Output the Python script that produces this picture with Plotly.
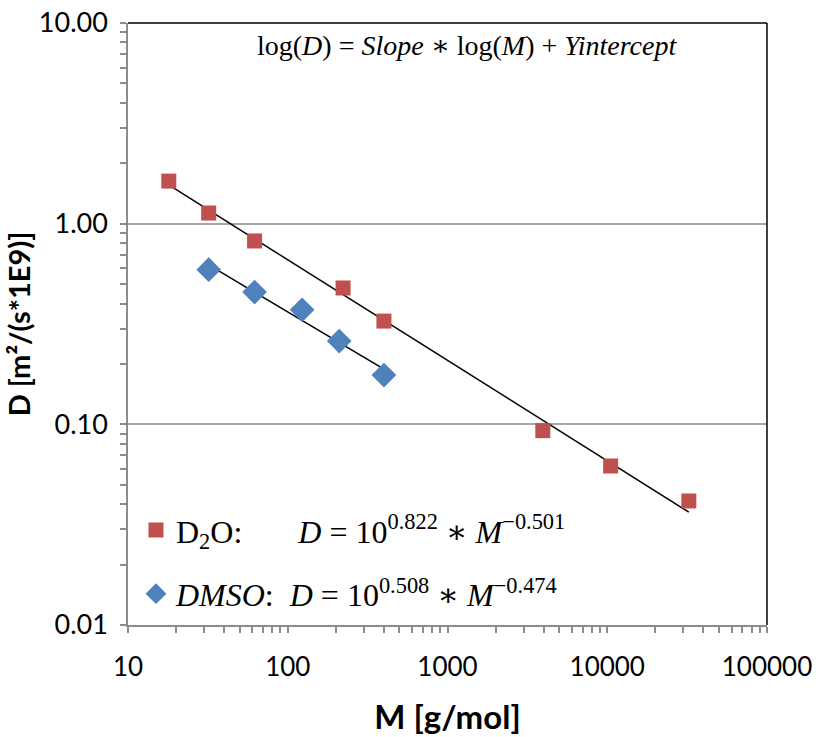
import plotly.graph_objects as go
import numpy as np

# D2O data
d2o_M = [18, 32, 62, 222, 400, 3950, 10500, 32400]
d2o_D = [1.63, 1.13, 0.82, 0.478, 0.327, 0.093, 0.062, 0.0415]
# DMSO data
dmso_M = [32, 62, 123, 210, 400]
dmso_D = [0.59, 0.456, 0.372, 0.26, 0.176]

# Fit parameters (log10 D = slope*log10 M + intercept)
d2o_fit = {"intercept": 0.822, "slope": -0.501}
dmso_fit = {"intercept": 0.508, "slope": -0.474}

y_tickvals = [0.01, 0.1, 1, 10]
y_ticktext = ["0.01", "0.10", "1.00", "10.00"]
x_tickvals = [10, 100, 1000, 10000, 100000]
x_ticktext = ["10", "100", "1000", "10000", "100000"]
x_minor = [m * 10 ** e for e in range(1, 5) for m in range(2, 10)]
y_minor = [m * 10 ** e for e in range(-2, 1) for m in range(2, 10)]

RED = "#C0504D"
BLUE = "#4F81BD"
SERIF = "Liberation Serif, DejaVu Serif, serif"
SANS = "Lato, Open Sans, sans-serif"
NB = "\u00a0"
AX = "#8C8C8C"

def trend(Ms, fit):
    m = np.array([min(Ms), max(Ms)], dtype=float)
    return m, 10 ** (fit["intercept"] + fit["slope"] * np.log10(m))

fig = go.Figure()

tx, ty = trend(d2o_M, d2o_fit)
fig.add_trace(go.Scatter(x=tx, y=ty, mode="lines", line=dict(color="black", width=1.5),
                         showlegend=False, hoverinfo="skip"))
tx, ty = trend(dmso_M, dmso_fit)
fig.add_trace(go.Scatter(x=tx, y=ty, mode="lines", line=dict(color="black", width=1.5),
                         showlegend=False, hoverinfo="skip"))

fig.add_trace(go.Scatter(
    x=d2o_M, y=d2o_D, mode="markers", legendgroup="a",
    marker=dict(symbol="square", size=15, color=RED),
    name="D<sub>2</sub>O:" + NB * 7 + "<i>D</i> = 10<sup>0.822</sup> ∗ <i>M</i><sup>−0.501</sup>"))
fig.add_trace(go.Scatter(
    x=dmso_M, y=dmso_D, mode="markers", legendgroup="b",
    marker=dict(symbol="diamond", size=19, color=BLUE),
    name="<i>DMSO</i>:" + NB * 2 + "<i>D</i> = 10<sup>0.508</sup> ∗ <i>M</i><sup>−0.474</sup>"))

fig.add_annotation(
    x=0.53, y=0.963, xref="paper", yref="paper", xanchor="center", yanchor="middle",
    text="log(<i>D</i>) = <i>Slope</i> ∗ log(<i>M</i>) + <i>Yintercept</i>",
    showarrow=False, font=dict(family=SERIF, size=28, color="black"))

fig.update_layout(
    width=818, height=737,
    margin=dict(l=128, r=51, t=23, b=112, autoexpand=False),
    paper_bgcolor="white", plot_bgcolor="white",
    font=dict(family=SANS, size=26, color="black"),
    legend=dict(x=0.0125, y=0.203, xanchor="left", yanchor="top",
                font=dict(family=SERIF, size=32, color="black"),
                bgcolor="rgba(0,0,0,0)", tracegroupgap=19, itemsizing="trace"),
    xaxis=dict(type="log", range=[1, 5], tickvals=x_tickvals, ticktext=x_ticktext,
               automargin=False,
               showgrid=False, ticks="outside", ticklen=6, tickcolor=AX, tickwidth=1.5,
               linecolor=AX, linewidth=1.5, mirror=False, ticklabelstandoff=12,
               minor=dict(tickvals=x_minor, ticks="outside", ticklen=6, tickcolor=AX,
                          tickwidth=1.5, showgrid=False),
               title=dict(text="<b>M [g/mol]</b>", font=dict(family=SANS, size=33), standoff=25),
               tickfont=dict(family=SANS, size=26)),
    yaxis=dict(type="log", range=[-2, 1], tickvals=y_tickvals, ticktext=y_ticktext,
               automargin=False,
               showgrid=True, gridcolor="#A6A6A6", gridwidth=1.5,
               ticks="outside", ticklen=6, tickcolor=AX, tickwidth=1.5,
               linecolor=AX, linewidth=1.5, ticklabelstandoff=7,
               minor=dict(tickvals=y_minor, ticks="outside", ticklen=6, tickcolor=AX,
                          tickwidth=1.5, showgrid=False),
               title=dict(text="<b>D [m²/(s*1E9)]</b>", font=dict(family=SANS, size=29), standoff=0),
               tickfont=dict(family=SANS, size=27)),
)

# top and right frame lines
fig.add_shape(type="line", xref="paper", yref="paper", x0=0, x1=1, y0=1, y1=1,
              line=dict(color="black", width=1.5))
fig.add_shape(type="line", xref="paper", yref="paper", x0=1, x1=1, y0=0, y1=1,
              line=dict(color="black", width=1.5))

fig.write_html("out.html", config={"displayModeBar": False},
               post_script="document.body.style.margin='0';")
